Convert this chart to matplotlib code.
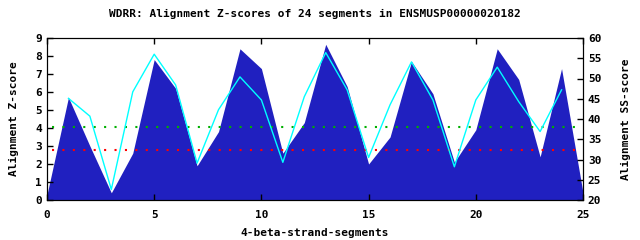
import matplotlib
matplotlib.use("Agg")
import matplotlib.pyplot as plt

title = "WDRR: Alignment Z-scores of 24 segments in ENSMUSP00000020182"
segments = list(range(0, 26))
z_scores = [0.3, 5.7, 3.0, 0.4, 2.6, 7.8, 6.2, 1.9, 3.8, 8.4, 7.3, 2.6, 4.3,
            8.65, 6.3, 2.0, 3.5, 7.7, 5.9, 2.1, 3.9, 8.4, 6.7, 2.4, 7.3, 0.4]
ss_x = list(range(1, 25))
ss_scores = [45.1, 40.7, 22.6, 46.7, 56.0, 48.4, 29.1, 42.3, 50.4, 44.7, 29.3, 45.5,
             56.4, 47.2, 30.5, 43.5, 54.1, 44.7, 28.2, 44.7, 52.8, 44.3, 36.9, 47.2]
z_green = 4.04
z_red = 2.78

font = {'family': 'DejaVu Sans Mono', 'weight': 'bold', 'size': 8}

fig = plt.figure(figsize=(6.4, 2.4), dpi=100)
ax = fig.add_axes([47/640, 40/240, (583-47)/640, (200-38)/240])
ax.fill_between(segments, z_scores, 0, color='#2020c0', linewidth=0, zorder=1)
ax.plot([0.25, 25], [z_green, z_green], color='#00b000', linestyle=(0, (1, 4)), linewidth=1.5, zorder=3)
ax.plot([0.25, 25], [z_red, z_red], color='#ff0000', linestyle=(0, (1, 4)), linewidth=1.5, zorder=3)
ax.set_xlim(0, 25)
ax.set_ylim(0, 9)
ax.set_xticks([0, 5, 10, 15, 20, 25])
ax.set_yticks(range(0, 10))
ax.tick_params(direction='in', top=True, length=4, width=1)
ax.tick_params(axis='x', pad=7)
ax.tick_params(axis='y', right=False)
for lab in ax.get_xticklabels() + ax.get_yticklabels():
    lab.set_fontproperties(font)
ax.set_xlabel("4-beta-strand-segments", fontdict=font, labelpad=6)
ax.set_ylabel("Alignment Z-score", fontdict=font, labelpad=12)
ax.set_title(title, fontdict=font, pad=15)

ax2 = ax.twinx()
ax2.plot(ss_x, ss_scores, color='#00ffff', linewidth=1, zorder=4)
ax2.set_ylim(20, 60)
ax2.set_yticks(range(20, 61, 5))
ax2.tick_params(direction='in', length=4, width=1)
for lab in ax2.get_yticklabels():
    lab.set_fontproperties(font)
ax2.set_ylabel("Alignment SS-score", fontdict=font, labelpad=14)

fig.savefig("out.png", dpi=100)
